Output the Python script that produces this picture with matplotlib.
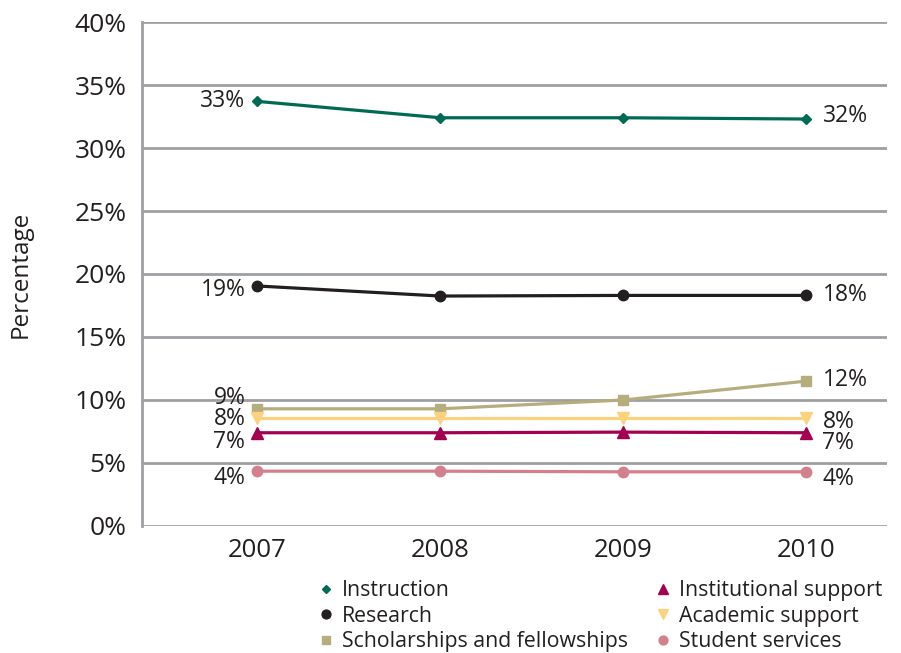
import matplotlib
matplotlib.use("Agg")
import matplotlib.pyplot as plt
from matplotlib.lines import Line2D
from matplotlib.ticker import PercentFormatter

plt.rcParams['font.family'] = ['Open Sans', 'DejaVu Sans']

# Data
years = ['2007', '2008', '2009', '2010']
series_names = ['Instruction', 'Research', 'Scholarships and fellowships',
                'Institutional support', 'Academic support', 'Student services']
instruction = [33.7, 32.4, 32.4, 32.3]
research = [19.05, 18.25, 18.3, 18.3]
scholarships = [9.3, 9.3, 10.0, 11.5]
institutional = [7.4, 7.4, 7.45, 7.4]
academic = [8.6, 8.6, 8.6, 8.6]
student = [4.35, 4.35, 4.3, 4.3]
start_labels = ['33%', '19%', '9%', '7%', '8%', '4%']
end_labels = ['32%', '18%', '12%', '7%', '8%', '4%']

values = [instruction, research, scholarships, institutional, academic, student]

# Styles
colors = ['#006b54', '#231f20', '#b5ad7d', '#a3004f', '#fdd27f', '#d4808c']
markers = ['D', 'o', 's', '^', 'v', 'o']
msizes = [5, 7.5, 7.5, 8, 8, 7.5]
start_dy = [0, -4, 11, -9, -1, -7]   # pixel offsets of the left labels
end_dy = [3, 0, 1, -10, -4, -7]      # pixel offsets of the right labels

fig = plt.figure(figsize=(9.01, 6.53), dpi=100)
ax = fig.add_axes([0.1576, 0.1945, 0.8269, 0.7718])

x = list(range(len(years)))
handles = []
for vals, name, c, m, ms, dy0, dy1, l0, l1 in zip(values, series_names, colors, markers,
                                                   msizes, start_dy, end_dy,
                                                   start_labels, end_labels):
    ax.plot(x, vals, color=c, lw=2.3, marker=m, ms=ms, zorder=3)
    ax.annotate(l0, (x[0], vals[0]), xytext=(-12, dy0), textcoords='offset pixels',
                ha='right', va='center', fontsize=16.5, color='#231f20')
    ax.annotate(l1, (x[-1], vals[-1]), xytext=(16, dy1), textcoords='offset pixels',
                ha='left', va='center', fontsize=16.5, color='#231f20')
    handles.append(Line2D([], [], color=c, marker=m, ls='none', ms=ms * 0.85, label=name))

ax.set_xlim(-0.63, 3.44)
ax.set_ylim(0, 40)
ax.set_yticks(range(0, 41, 5))
ax.yaxis.set_major_formatter(PercentFormatter(decimals=0))
ax.set_xticks(x)
ax.set_xticklabels(years)
ax.tick_params(axis='y', length=0, pad=11, labelsize=19, labelcolor='#231f20')
ax.tick_params(axis='x', length=0, pad=9, labelsize=18.5, labelcolor='#231f20')
ax.grid(axis='y', color='#9d9fa2', lw=2)
ax.set_axisbelow(True)
for s in ['top', 'right', 'bottom']:
    ax.spines[s].set_visible(False)
ax.spines['left'].set_color('#9d9fa2')
ax.spines['left'].set_linewidth(2)
ax.set_ylabel('Percentage', fontsize=17.5, color='#231f20', labelpad=30)

fig.legend(handles=handles, ncol=2, loc='upper left', bbox_to_anchor=(0.343, 0.128),
           frameon=False, fontsize=15.3, handlelength=0.6, handletextpad=0.45,
           columnspacing=1.35, labelspacing=0.22, borderpad=0,
           labelcolor='#231f20')

fig.savefig('out.png', dpi=100)
